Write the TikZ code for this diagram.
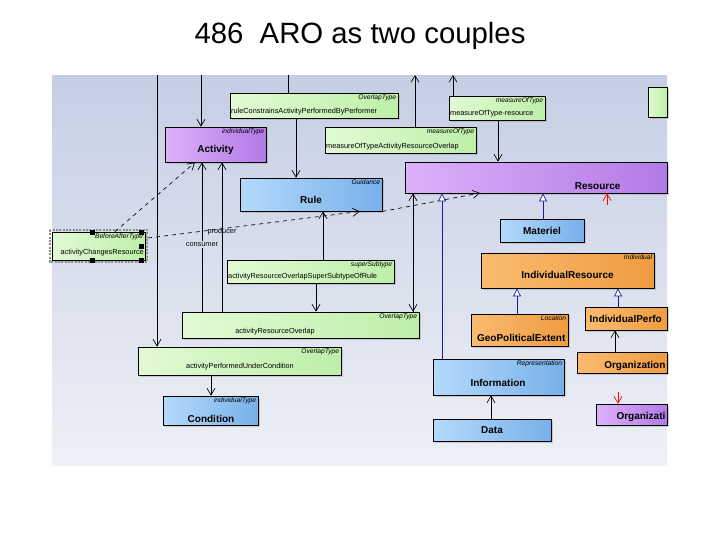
\documentclass[tikz,border=0pt]{standalone}
\usepackage{fontspec}
\setmainfont{Liberation Sans}
\usetikzlibrary{fit,arrows.meta,shadows}
\definecolor{gA}{HTML}{E2FAD4}\definecolor{gB}{HTML}{BDEFA8}
\definecolor{pA}{HTML}{DDB0FA}\definecolor{pB}{HTML}{B27AE6}
\definecolor{bA}{HTML}{B4DAFA}\definecolor{bB}{HTML}{78B0EA}
\definecolor{oA}{HTML}{FABB70}\definecolor{oB}{HTML}{EE9C40}
\definecolor{bgA}{HTML}{C5CEE4}\definecolor{bgB}{HTML}{EEF0F6}
\definecolor{navy}{HTML}{1A1A9A}
\tikzset{
 ubox/.style={fit={#1},inner sep=0pt,draw=black,line width=0.6pt,drop shadow={shadow xshift=1.5pt,shadow yshift=-1.5pt,fill=black!35}},
 grn/.style={left color=gA,right color=gB},
 pur/.style={left color=pA,right color=pB},
 blu/.style={left color=bA,right color=bB},
 org/.style={left color=oA,right color=oB},
 st/.style={font=\fontsize{5}{5.5}\selectfont\itshape,anchor=north east,inner sep=1.5pt},
 nm/.style={font=\fontsize{7.5}{8}\selectfont\bfseries,inner sep=1pt},
 lt/.style={font=\fontsize{5.5}{6.5}\selectfont,inner sep=1pt},
 vee/.style={-{Straight Barb[length=5pt,width=6pt]}},
 tri/.style={-{Triangle[open,fill=white,length=6pt,width=6pt]}},
 con/.style={line width=0.5pt},
}
\begin{document}
\begin{tikzpicture}[x=0.75pt,y=-0.75pt]
\useasboundingbox (0,0) rectangle (720,540);
\fill[white] (0,0) rectangle (720,540);
\node[font=\fontsize{22}{24}\selectfont] (title) at (360,36) {486\ \ ARO as two couples};
\shade[top color=bgA,bottom color=bgB] (52,75) rectangle (667,465);
\coordinate (t157) at (157,75);
\coordinate (t201) at (201,75);
\coordinate (t288) at (288,75);
\coordinate (t415) at (415,75);
\coordinate (t453) at (453,75);
% boxes
\node[ubox={(230,93)(398,118)},grn] (rc) {};
\node[st] at (rc.north east) {OverlapType};
\node[lt,anchor=south west] at ([yshift=1pt]rc.south west) {ruleConstrainsActivityPerformedByPerformer};
\node[ubox={(449,96)(545,120)},grn] (mr) {};
\node[st] at (mr.north east) {measureOfType};
\node[lt,anchor=south west] at ([yshift=1pt]mr.south west) {measureOfType-resource};
\node[ubox={(648,87)(667,117)},grn,drop shadow={opacity=0}] (gr) {};
\node[ubox={(165,127)(266,162)},pur] (act) {};
\node[st] at (act.north east) {individualType};
\node[nm] at ([yshift=-4pt]act.center) {Activity};
\node[ubox={(325,127)(476,153)},grn] (mo) {};
\node[st] at (mo.north east) {measureOfType};
\node[lt,anchor=south west] at ([yshift=1pt]mo.south west) {measureOfTypeActivityResourceOverlap};
\node[ubox={(240,178)(382,211)},blu] (rule) {};
\node[st] at (rule.north east) {Guidance};
\node[nm] at ([yshift=-4pt]rule.center) {Rule};
\node[ubox={(405,162)(667,193)},pur] (res) {};
\node[nm,anchor=east] at (622,186) {Resource};
\draw[densely dotted,line width=1.5pt,black!45] (50,230) rectangle (147,262);
\node[ubox={(52,232)(145,260)},grn] (ba) {};
\node[st] at (ba.north east) {BeforeAfterType};
\node[lt,anchor=south east] at ([yshift=2pt]ba.south east) {activityChangesResource};
\foreach \p in {(92,232),(141,232),(141,246),(92,260),(141,260)} \fill \p +(-2.5,-2.5) rectangle +(2.5,2.5);
\node[ubox={(500,219)(584,242)},blu] (mat) {};
\node[nm] at (mat.center) {Materiel};
\node[ubox={(227,260)(394,283)},grn] (ss) {};
\node[st] at (ss.north east) {superSubtype};
\node[lt,anchor=south west] at ([yshift=1pt]ss.south west) {activityResourceOverlapSuperSubtypeOfRule};
\node[ubox={(481,253)(654,288)},org] (ir) {};
\node[st] at (ir.north east) {Individual};
\node[nm] at ([yshift=-3pt]ir.center) {IndividualResource};
\node[ubox={(182,312)(419,338)},grn] (aro) {};
\node[st] at (aro.north east) {OverlapType};
\node[lt] at (275,332) {activityResourceOverlap};
\node[ubox={(471,314)(568,346)},org] (geo) {};
\node[st] at (geo.north east) {Location};
\node[nm,anchor=east] at (567,338) {GeoPoliticalExtent};
\node[ubox={(585,307)(667,330)},org] (ip) {};
\node[nm,anchor=west] at (588,319) {IndividualPerfo};
\node[ubox={(138,347)(341,375)},grn] (apc) {};
\node[st] at (apc.north east) {OverlapType};
\node[lt] at (240,367) {activityPerformedUnderCondition};
\node[ubox={(577,352)(667,373)},org] (org) {};
\node[nm,anchor=east] at (667,366) {Organization};
\node[ubox={(433,359)(564,395)},blu] (inf) {};
\node[st] at (inf.north east) {Representation};
\node[nm] at (498,383) {Information};
\node[ubox={(163,396)(258,425)},blu] (cond) {};
\node[st] at (cond.north east) {individualType};
\node[nm] at (211,419) {Condition};
\node[ubox={(596,404)(667,425)},pur] (orgp) {};
\node[nm,anchor=east] at (667,417) {Organizati};
\node[ubox={(433,419)(551,441)},blu] (data) {};
\node[nm] at (data.center) {Data};
% connectors
\begin{scope}[con]
\draw[vee] (t157) -- (apc.north -| t157);
\draw[vee] (t201) -- (act.north -| t201);
\draw (t288) -- (rc.north -| t288);
\draw[vee] (mo.north -| t415) -- (t415);
\draw[vee] (mr.north -| t453) -- (t453);
\draw[vee] (mr.south -| 498,0) -- (res.north -| 498,0);
\draw[vee] (rc.south -| 296,0) -- (rule.north -| 296,0);
\draw[vee,dashed] (ba.north -| 115,0) -- (act.south -| 195,0);
\draw[vee] (aro.north -| 202,0) -- node[lt,pos=0.45,fill=bgA!50!bgB] (cons) {consumer} (act.south -| 202,0);
\draw[vee] (aro.north -| 222,0) -- (act.south -| 222,0);
\node[lt] (prod) at (222,232) {producer};
\draw[vee,dashed] (148,238) -- (rule.south -| 360,0);
\draw[vee,dashed] (rule.south east) -- (480,193);
\draw[vee] (ss.north -| 323,0) -- (rule.south -| 323,0);
\draw[vee] (ss.south -| 316,0) -- (aro.north -| 316,0);
\draw[vee] (res.south -| 413,0) -- (aro.north -| 413,0);
\draw[vee] (aro.north -| 413,0) -- (res.south -| 413,0);
\draw[vee] (apc.south -| 211,0) -- (cond.north -| 211,0);
\draw[vee] (data.north -| 491,0) -- (inf.south -| 491,0);
\draw[vee] (org.north -| 615,0) -- (ip.south -| 615,0);
\end{scope}
\begin{scope}[con,navy]
\draw[tri] (inf.north -| 442,0) -- (res.south -| 442,0);
\draw[tri] (mat.north -| 543,0) -- (res.south -| 543,0);
\draw[tri] (geo.north -| 517,0) -- (ir.south -| 517,0);
\draw[tri] (ip.north -| 618,0) -- (ir.south -| 618,0);
\end{scope}
\coordinate (r1) at (607,205);
\coordinate (r2) at (618,392);
\draw[red,vee,con] (r1) -- (res.south -| r1);
\draw[red,vee,con] (r2) -- (orgp.north -| r2);
\end{tikzpicture}
\end{document}
